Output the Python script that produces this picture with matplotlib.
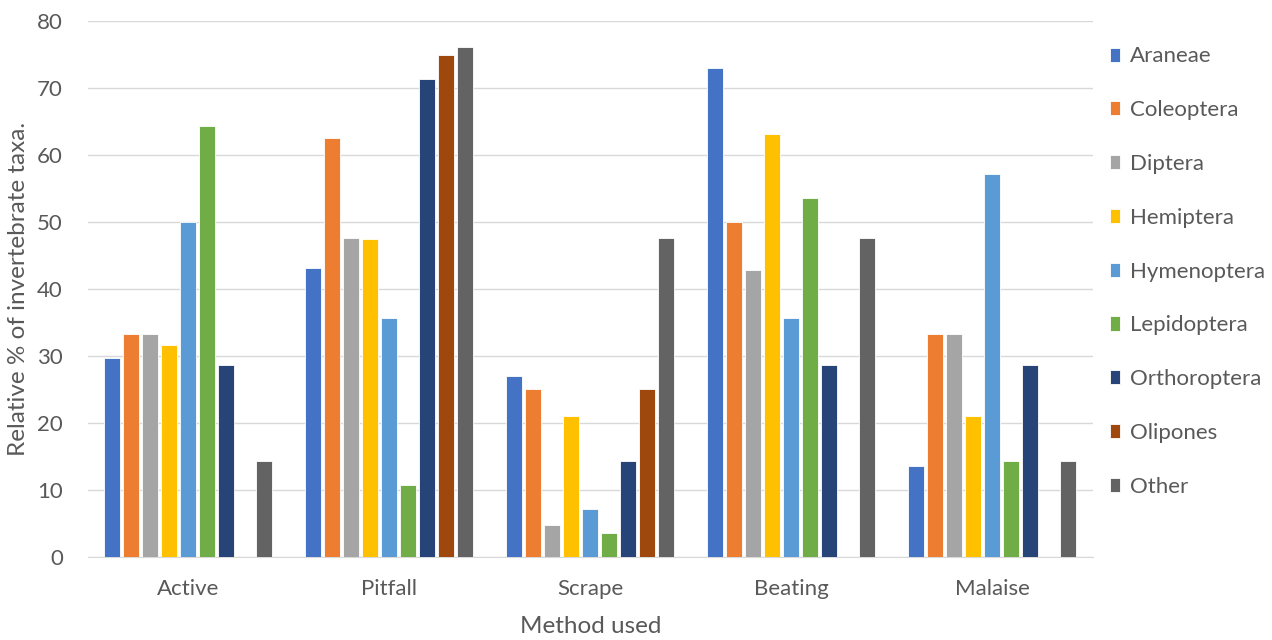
import matplotlib.pyplot as plt
import numpy as np

plt.rcParams['font.family'] = ['Lato', 'DejaVu Sans']

methods = ['Active', 'Pitfall', 'Scrape', 'Beating', 'Malaise']
taxa = ['Araneae', 'Coleoptera', 'Diptera', 'Hemiptera', 'Hymenoptera',
        'Lepidoptera', 'Orthoroptera', 'Olipones', 'Other']
colors = ['#4472C4', '#ED7D31', '#A5A5A5', '#FFC000', '#5B9BD5',
          '#70AD47', '#264478', '#9E480E', '#636363']

# relative % per taxon, one value per method
araneae = [29.7, 43.2, 27.0, 73.0, 13.5]
coleoptera = [33.3, 62.5, 25.0, 50.0, 33.3]
diptera = [33.3, 47.6, 4.8, 42.9, 33.3]
hemiptera = [31.6, 47.4, 21.1, 63.2, 21.1]
hymenoptera = [50.0, 35.7, 7.1, 35.7, 57.1]
lepidoptera = [64.3, 10.7, 3.6, 53.6, 14.3]
orthoroptera = [28.6, 71.4, 14.3, 28.6, 28.6]
olipones = [0, 75.0, 25.0, 0, 0]
other = [14.3, 76.2, 47.6, 47.6, 14.3]

series = [araneae, coleoptera, diptera, hemiptera, hymenoptera,
          lepidoptera, orthoroptera, olipones, other]

fig = plt.figure(figsize=(12.72, 6.4), dpi=100)
ax = fig.add_axes([0.069, 0.13, 0.79, 0.837])

x = np.arange(len(methods))
pitch = 0.0945
width = 0.078
for i, (name, vals, c) in enumerate(zip(taxa, series, colors)):
    offs = (i - (len(taxa) - 1) / 2) * pitch
    ax.bar(x + offs, vals, width, color=c, label=name,
           edgecolor='white', linewidth=0.6, zorder=3)

ax.set_xlim(-0.5, len(methods) - 0.5)
ax.set_ylim(0, 80)
ax.set_yticks(range(0, 81, 10))
ax.set_xticks(x)
ax.set_xticklabels(methods)
ax.grid(axis='y', color='#d9d9d9', linewidth=1, zorder=0)
for s in ['top', 'right', 'left']:
    ax.spines[s].set_visible(False)
ax.spines['bottom'].set_color('#d9d9d9')
ax.tick_params(axis='both', length=0, labelsize=16, colors='#595959')
ax.tick_params(axis='x', pad=16)
ax.tick_params(axis='y', pad=18)
ax.set_xlabel('Method used', fontsize=17.5, color='#595959', labelpad=12)
ax.set_ylabel('Relative % of invertebrate taxa.', fontsize=17.5,
              color='#595959', labelpad=6)

ax.legend(loc='upper left', bbox_to_anchor=(0.997, 0.99), frameon=False,
          fontsize=16, labelcolor='#595959', handlelength=0.45,
          handleheight=0.6, handletextpad=0.45, labelspacing=1.52)

fig.savefig('out.png', dpi=100)
